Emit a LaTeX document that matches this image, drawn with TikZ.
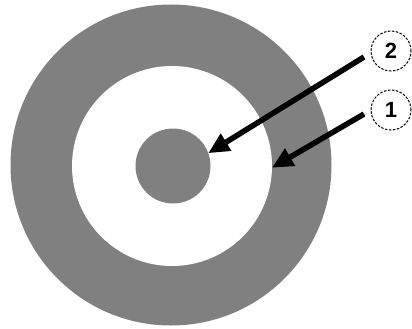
\documentclass[tikz,border=0pt]{standalone}
\usepackage{fontspec}
\setsansfont{Liberation Sans}
\usetikzlibrary{arrows.meta, positioning}

\definecolor{ringgray}{RGB}{128,128,128}

\begin{document}
\begin{tikzpicture}[
    x=1pt, y=-1pt,
    disc/.style={circle, inner sep=0pt, outer sep=0pt, draw=none},
    marker/.style={circle, draw, dashed, dash pattern=on 2.5pt off 1.5pt, line width=1pt, minimum size=40pt, inner sep=0pt, font=\sffamily\bfseries\fontsize{22}{26}\selectfont},
    arrow/.style={-{Triangle[length=21pt, width=19pt]}, line width=5.5pt, draw=black}
  ]
    \useasboundingbox (0,0) rectangle (412,329);

    % Target
    \node[disc, fill=ringgray, minimum size=321pt] (ring) at (171,165) {};
    \node[disc, fill=white, minimum size=200pt] (hole) at (172,166) {};
    \node[disc, fill=ringgray, minimum size=75pt] (core) at (173,166) {};

    % Labels
    \node[marker] (lbl2) at (391,51) {2};
    \node[marker] (lbl1) at (391,110) {1};
    \coordinate (tail2) at (364,57);
    \coordinate (tail1) at (364,114);

    % Connections
    \draw[arrow] (tail2) -- (core.20);
    \draw[arrow] (tail1) -- (hole.-1);

  \end{tikzpicture}
\end{document}
